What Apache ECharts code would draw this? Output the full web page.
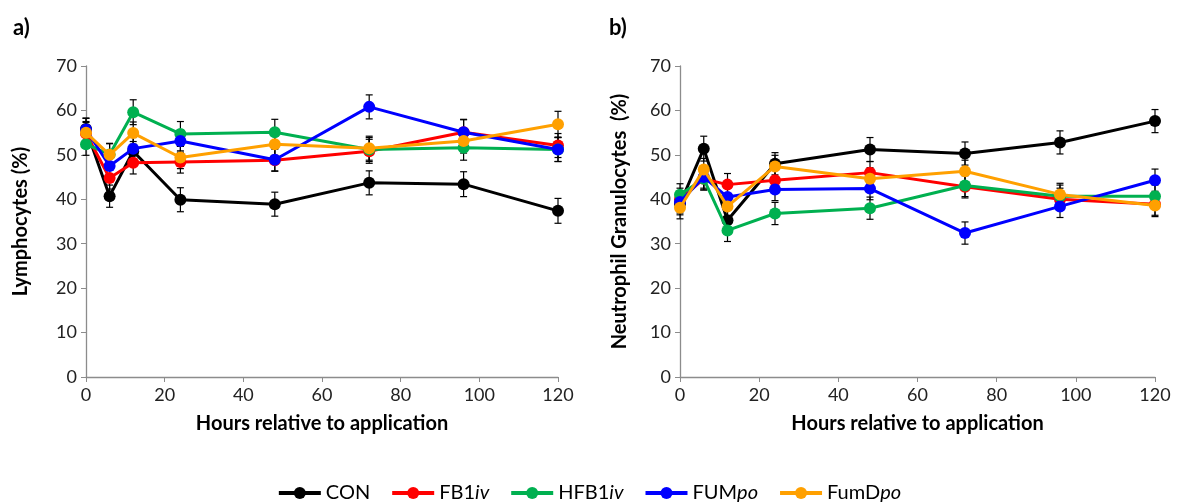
<!DOCTYPE html>
<html>
<head>
<meta charset="utf-8">
<script src="https://cdn.jsdelivr.net/npm/echarts@6/dist/echarts.min.js"></script>
<style>
  html, body { margin: 0; padding: 0; background: #fff; }
  #main { width: 1178px; height: 502px; }
</style>
</head>
<body>
<div id="main"></div>
<script>
// time points (hours)
const hours = [0, 6, 12, 24, 48, 72, 96, 120];
const groups = ['CON', 'FB1iv', 'HFB1iv', 'FUMpo', 'FumDpo'];
const colors = ['#000000', '#ff0000', '#00b050', '#0000ff', '#ffa000'];

// a) Lymphocytes (%)
const lymCON    = [55.8, 40.7, 50.8, 39.9, 38.9, 43.7, 43.4, 37.4];
const lymFB1iv  = [54.8, 44.8, 48.2, 48.4, 48.8, 50.8, 55.1, 52.1];
const lymHFB1iv = [52.4, 50.1, 59.6, 54.7, 55.1, 51.2, 51.6, 51.2];
const lymFUMpo  = [55.7, 47.5, 51.4, 53.1, 48.9, 60.8, 55.1, 51.2];
const lymFumDpo = [55.0, 50.0, 54.9, 49.4, 52.4, 51.5, 53.1, 56.9];
const lymErrCON    = [2.5, 2.5, 2.2, 2.7, 2.7, 2.7, 2.8, 2.8];
const lymErrFB1iv  = [2.5, 2.5, 2.5, 2.5, 2.5, 2.7, 2.8, 2.7];
const lymErrHFB1iv = [2.5, 2.5, 2.8, 2.8, 2.9, 2.7, 2.8, 2.7];
const lymErrFUMpo  = [2.5, 2.5, 2.5, 2.5, 2.5, 2.7, 2.9, 2.7];
const lymErrFumDpo = [2.5, 2.5, 2.5, 2.5, 2.5, 2.7, 2.7, 2.9];

// b) Neutrophil granulocytes (%)
const neuCON    = [39.0, 51.4, 35.3, 48.0, 51.2, 50.3, 52.8, 57.6];
const neuFB1iv  = [40.0, 44.6, 43.3, 44.3, 46.0, 42.8, 40.0, 38.9];
const neuHFB1iv = [41.0, 44.6, 33.0, 36.8, 38.0, 43.1, 40.7, 40.7];
const neuFUMpo  = [39.4, 45.0, 40.5, 42.2, 42.4, 32.4, 38.4, 44.3];
const neuFumDpo = [38.1, 46.7, 38.4, 47.4, 44.6, 46.3, 41.1, 38.6];
const neuErrCON    = [2.5, 2.8, 2.5, 2.5, 2.7, 2.6, 2.6, 2.6];
const neuErrFB1iv  = [2.5, 2.5, 2.5, 2.5, 2.5, 2.5, 2.5, 2.5];
const neuErrHFB1iv = [2.5, 2.5, 2.5, 2.5, 2.5, 2.5, 2.5, 2.5];
const neuErrFUMpo  = [2.5, 2.5, 2.5, 2.5, 2.5, 2.5, 2.5, 2.5];
const neuErrFumDpo = [2.5, 2.5, 2.5, 2.5, 2.5, 2.5, 2.5, 2.5];

const lymVals = [lymCON, lymFB1iv, lymHFB1iv, lymFUMpo, lymFumDpo];
const lymErrs = [lymErrCON, lymErrFB1iv, lymErrHFB1iv, lymErrFUMpo, lymErrFumDpo];
const neuVals = [neuCON, neuFB1iv, neuHFB1iv, neuFUMpo, neuFumDpo];
const neuErrs = [neuErrCON, neuErrFB1iv, neuErrHFB1iv, neuErrFUMpo, neuErrFumDpo];

const FONT = 'Lato';
const axisGray = '#8c8c8c';

let chart = echarts.init(document.getElementById('main'));

function errorBar(params, api) {
  const x = api.value(0);
  const top = api.coord([x, api.value(2)]);
  const bot = api.coord([x, api.value(1)]);
  const w = 3.5;
  const st = { stroke: '#000', lineWidth: 1.2 };
  return {
    type: 'group',
    children: [
      { type: 'line', shape: { x1: top[0], y1: top[1], x2: bot[0], y2: bot[1] }, style: st },
      { type: 'line', shape: { x1: top[0] - w, y1: top[1], x2: top[0] + w, y2: top[1] }, style: st },
      { type: 'line', shape: { x1: bot[0] - w, y1: bot[1], x2: bot[0] + w, y2: bot[1] }, style: st }
    ]
  };
}

function xAxisFor(idx) {
  return {
    gridIndex: idx, type: 'value', min: 0, max: 120, interval: 20,
    name: 'Hours relative to application', nameLocation: 'middle', nameGap: 37,
    nameTextStyle: { fontFamily: FONT, fontWeight: 'bold', fontSize: 20, color: '#000' },
    axisLine: { lineStyle: { color: axisGray, width: 1.3 } },
    axisTick: { show: true, length: 5, lineStyle: { color: axisGray } },
    axisLabel: { fontFamily: FONT, fontSize: 18, color: '#222', margin: 9 },
    splitLine: { show: false }
  };
}

function yAxisFor(idx, name, gap) {
  return {
    gridIndex: idx, type: 'value', min: 0, max: 70, interval: 10,
    name: name, nameLocation: 'middle', nameGap: gap,
    nameTextStyle: { fontFamily: FONT, fontWeight: 'bold', fontSize: 20, color: '#000' },
    axisLine: { show: true, lineStyle: { color: axisGray, width: 1.3 } },
    axisTick: { show: true, length: 5, lineStyle: { color: axisGray } },
    axisLabel: { fontFamily: FONT, fontSize: 18, color: '#222', margin: 9 },
    splitLine: { show: false }
  };
}

let series = [];
[[lymVals, lymErrs], [neuVals, neuErrs]].forEach(function (pair, g) {
  groups.forEach(function (name, k) {
    series.push({
      name: 'err-' + g + '-' + name,
      type: 'custom',
      xAxisIndex: g, yAxisIndex: g,
      renderItem: errorBar,
      encode: { x: 0, y: [1, 2] },
      data: hours.map(function (h, i) {
        return [h, pair[0][k][i] - pair[1][k][i], pair[0][k][i] + pair[1][k][i]];
      }),
      z: 1,
      silent: true
    });
  });
});
[lymVals, neuVals].forEach(function (vals, g) {
  groups.forEach(function (name, k) {
    series.push({
      name: name,
      type: 'line',
      xAxisIndex: g, yAxisIndex: g,
      data: hours.map(function (h, i) { return [h, vals[k][i]]; }),
      color: colors[k],
      symbol: 'circle',
      symbolSize: 12,
      lineStyle: { width: 3 },
      z: 2 + k,
      animation: false
    });
  });
});

const option = {
  animation: false,
  title: [
    { text: 'a)', left: 8, top: 12, textStyle: { fontFamily: FONT, fontWeight: 'bold', fontSize: 22, color: '#000' } },
    { text: 'b)', left: 604, top: 12, textStyle: { fontFamily: FONT, fontWeight: 'bold', fontSize: 22, color: '#000' } }
  ],
  grid: [
    { left: 86, top: 66, width: 472, height: 311 },
    { left: 680, top: 66, width: 475, height: 311 }
  ],
  xAxis: [xAxisFor(0), xAxisFor(1)],
  yAxis: [yAxisFor(0, 'Lymphocytes (%)', 55), yAxisFor(1, 'Neutrophil Granulocytes  (%)', 50)],
  legend: {
    data: groups,
    left: 'center',
    top: 478,
    itemWidth: 42,
    itemHeight: 15,
    itemGap: 20,
    lineStyle: { width: 4 },
    formatter: function (n) {
      const m = { CON: '{n|CON}', FB1iv: '{n|FB1}{i|iv}', HFB1iv: '{n|HFB1}{i|iv}', FUMpo: '{n|FUM}{i|po}', FumDpo: '{n|FumD}{i|po}' };
      return m[n];
    },
    textStyle: {
      fontFamily: FONT, fontSize: 20, color: '#000',
      rich: {
        n: { fontFamily: FONT, fontSize: 20, color: '#000' },
        i: { fontFamily: FONT, fontSize: 20, color: '#000', fontStyle: 'italic' }
      }
    }
  },
  series: series
};

chart.setOption(option, true);
window.addEventListener('resize', () => { chart.resize(); });
</script>
</body>
</html>
